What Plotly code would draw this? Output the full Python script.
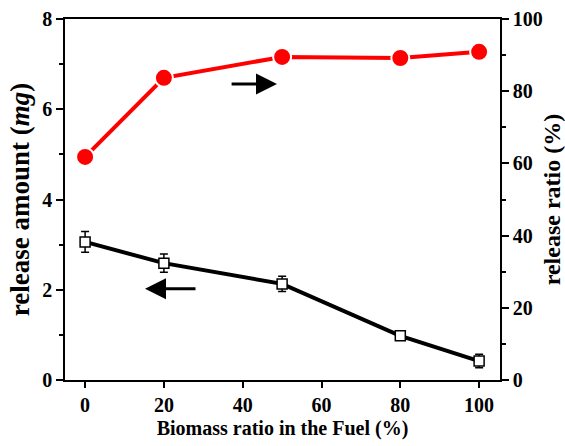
import plotly.graph_objects as go

biomass = [0, 20, 50, 80, 100]
release_amount = [3.06, 2.59, 2.13, 0.98, 0.42]
release_amount_err = [0.23, 0.20, 0.17, 0.08, 0.15]
release_ratio = [61.8, 83.7, 89.5, 89.2, 90.9]

FONT = "Liberation Serif"

fig = go.Figure()
fig.add_trace(go.Scatter(
    x=biomass, y=release_amount, mode="lines+markers",
    line=dict(color="black", width=4),
    marker=dict(symbol="square", size=10, color="white",
                line=dict(color="black", width=1.5)),
    error_y=dict(type="data", array=release_amount_err, color="black",
                 thickness=1.5, width=4),
    yaxis="y", showlegend=False,
))
fig.add_trace(go.Scatter(
    x=biomass, y=release_ratio, mode="lines+markers",
    line=dict(color="#ff0000", width=4),
    marker=dict(symbol="circle", size=18, color="#ff0000",
                line=dict(color="white", width=2)),
    yaxis="y2", showlegend=False,
))

fig.add_annotation(x=48.7, y=6.56, ax=36.8, ay=6.56, xref="x", yref="y",
                   axref="x", ayref="y", showarrow=True, arrowhead=2,
                   arrowsize=1.4, arrowwidth=3, arrowcolor="black", text="")
fig.add_annotation(x=15.2, y=2.02, ax=28.4, ay=2.02, xref="x", yref="y",
                   axref="x", ayref="y", showarrow=True, arrowhead=2,
                   arrowsize=1.4, arrowwidth=3, arrowcolor="black", text="")

tickfont = dict(family=FONT, size=20, color="black", weight=700)

fig.update_layout(
    width=565, height=446,
    margin=dict(l=65, r=65, t=19, b=66),
    plot_bgcolor="white", paper_bgcolor="white",
    font=dict(family=FONT, color="black"),
    xaxis=dict(
        range=[-5.1, 105.3], tickvals=[0, 20, 40, 60, 80, 100],
        showline=True, linecolor="black", linewidth=1.5, mirror=True,
        ticks="outside", ticklen=6, tickwidth=1.5, tickcolor="black",
        showgrid=False, zeroline=False, tickfont=tickfont, automargin=False,
        title=dict(text="Biomass ratio in the Fuel (%)",
                   font=dict(family=FONT, size=20, color="black", weight=700),
                   standoff=6),
    ),
    yaxis=dict(
        range=[0, 8], tickvals=[0, 2, 4, 6, 8],
        showline=True, linecolor="black", linewidth=1.5,
        ticks="outside", ticklen=7, tickwidth=1.5, tickcolor="black",
        minor=dict(ticks="outside", ticklen=4, tickwidth=1.5, dtick=1, tickcolor="black"),
        showgrid=False, zeroline=False, tickfont=tickfont, automargin=False,
        title=dict(text="release amount (<i>mg</i>)",
                   font=dict(family=FONT, size=27, color="black", weight=700),
                   standoff=5),
    ),
    yaxis2=dict(
        range=[0, 100], tickvals=[0, 20, 40, 60, 80, 100],
        overlaying="y", side="right",
        showline=True, linecolor="black", linewidth=1.5,
        ticks="outside", ticklen=7, tickwidth=1.5, tickcolor="black",
        minor=dict(ticks="outside", ticklen=4, tickwidth=1.5, dtick=10, tickcolor="black"),
        showgrid=False, zeroline=False, tickfont=tickfont, automargin=False,
        title=dict(text="release ratio (%)",
                   font=dict(family=FONT, size=24, color="black", weight=700),
                   standoff=8),
    ),
)

fig.write_html("out.html", config={"displayModeBar": False},
               post_script="document.body.style.margin='0';")
